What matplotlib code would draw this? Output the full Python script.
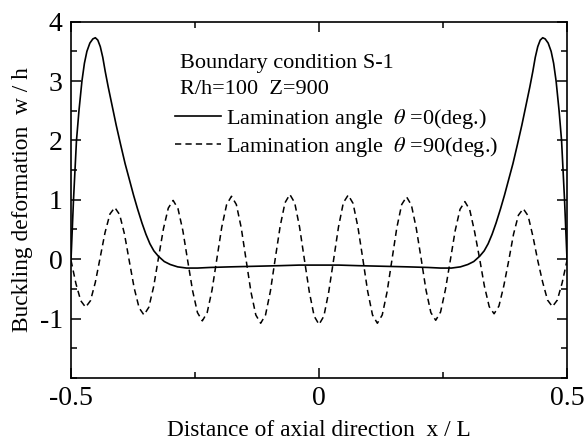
"""Buckling deformation along the axial direction for two lamination angles."""

import matplotlib

matplotlib.use("Agg")

import matplotlib.pyplot as plt
import numpy as np
from matplotlib.ticker import MultipleLocator

# theta = 0 deg (solid)
x_solid = [
    -0.500, -0.497, -0.495, -0.492, -0.489, -0.484, -0.478, -0.473, -0.468,
    -0.462, -0.456, -0.451, -0.446, -0.441, -0.436, -0.431, -0.425, -0.417,
    -0.409, -0.400, -0.391, -0.382, -0.374, -0.366, -0.357, -0.349, -0.341,
    -0.333, -0.324, -0.312, -0.300, -0.285, -0.267, -0.245, -0.220, -0.180,
    -0.130, -0.080, -0.040, 0.000,
    0.040, 0.080, 0.130, 0.180, 0.220, 0.245, 0.267, 0.285, 0.300, 0.312,
    0.324, 0.333, 0.341, 0.349, 0.357, 0.366, 0.374, 0.382, 0.391, 0.400,
    0.409, 0.417, 0.425, 0.431, 0.436, 0.441, 0.446, 0.451, 0.456, 0.462,
    0.468, 0.473, 0.478, 0.484, 0.489, 0.492, 0.495, 0.497, 0.500,
]
w_solid = [
    0.00, 0.60, 1.00, 1.50, 2.00, 2.50, 3.00, 3.30, 3.50,
    3.64, 3.71, 3.73, 3.69, 3.58, 3.40, 3.16, 2.90, 2.58,
    2.26, 1.93, 1.61, 1.33, 1.08, 0.85, 0.61, 0.42, 0.26,
    0.14, 0.05, -0.04, -0.09, -0.13, -0.15, -0.15, -0.14, -0.13,
    -0.12, -0.11, -0.10, -0.10,
    -0.10, -0.11, -0.12, -0.13, -0.14, -0.15, -0.15, -0.13, -0.09, -0.04,
    0.05, 0.14, 0.26, 0.42, 0.61, 0.85, 1.08, 1.33, 1.61, 1.93,
    2.26, 2.58, 2.90, 3.16, 3.40, 3.58, 3.69, 3.73, 3.71, 3.64,
    3.50, 3.30, 3.00, 2.50, 2.00, 1.50, 1.00, 0.60, 0.00,
]

# theta = 90 deg (dashed), sampled every 1/102 of the length
x_dashed = np.linspace(-0.5, 0.5, 103)
w_dashed = [
    -0.02, -0.41, -0.70,
    -0.81, -0.70, -0.39, 0.03, 0.45, 0.76,
    0.87, 0.75, 0.42, -0.04, -0.49, -0.82,
    -0.94, -0.81, -0.46, 0.03, 0.51, 0.86,
    0.99, 0.85, 0.48, -0.03, -0.53, -0.90,
    -1.04, -0.90, -0.52, 0.01, 0.54, 0.92,
    1.06, 0.92, 0.53, -0.01, -0.55, -0.94,
    -1.08, -0.94, -0.54, 0.01, 0.55, 0.95,
    1.09, 0.95, 0.54, -0.01, -0.55, -0.96,
    -1.10,
    -0.96, -0.55, -0.01, 0.54, 0.95,
    1.08, 0.94, 0.54, 0.01, -0.54, -0.94,
    -1.08, -0.94, -0.55, -0.01, 0.53, 0.92,
    1.05, 0.91, 0.52, 0.01, -0.52, -0.90,
    -1.03, -0.89, -0.51, -0.02, 0.48, 0.84,
    0.97, 0.83, 0.46, 0.02, -0.45, -0.80,
    -0.92, -0.79, -0.45, -0.03, 0.42, 0.74,
    0.85, 0.73, 0.38, -0.03, -0.39, -0.69,
    -0.80, -0.69, -0.40, -0.02,
]

x_ticks = [-0.5, 0.0, 0.5]
x_tick_labels = ["-0.5", "0", "0.5"]
y_ticks = [-1, 0, 1, 2, 3, 4]
y_tick_labels = ["-1", "0", "1", "2", "3", "4"]

header_lines = ["Boundary condition S-1", "R/h=100  Z=900"]
series_labels = [
    r"Lamination angle  $\theta$ =0(deg.)",
    r"Lamination angle  $\theta$ =90(deg.)",
]

plt.rcParams["font.family"] = ["Liberation Serif", "DejaVu Serif"]
plt.rcParams["mathtext.fontset"] = "stix"
plt.rcParams["axes.unicode_minus"] = False
plt.rcParams["lines.scale_dashes"] = False

figure = plt.figure(figsize=(5.86, 4.43), dpi=100)
axis = figure.add_axes([0.1212, 0.147, 0.8464, 0.804])

axis.plot(x_solid, w_solid, color="black", linewidth=1.2, label=series_labels[0])
axis.plot(
    x_dashed,
    w_dashed,
    color="black",
    linewidth=1.1,
    dashes=(4.5, 3.0),
    label=series_labels[1],
)

axis.set_xlim(-0.5, 0.5)
axis.set_ylim(-2, 4)
axis.set_xticks(x_ticks)
axis.set_xticklabels(x_tick_labels)
axis.set_yticks(y_ticks)
axis.set_yticklabels(y_tick_labels)
axis.xaxis.set_minor_locator(MultipleLocator(0.25))
axis.yaxis.set_minor_locator(MultipleLocator(0.5))
axis.tick_params(
    which="both", direction="in", top=True, right=True, labelsize=20, width=1.1
)
axis.tick_params(which="major", length=7, pad=6)
axis.tick_params(which="minor", length=4)
for spine in axis.spines.values():
    spine.set_linewidth(1.2)

axis.set_xlabel("Distance of axial direction  x / L", fontsize=16.8)
axis.set_ylabel("Buckling deformation  w / h", fontsize=16.8)
axis.xaxis.set_label_coords(0.5, -0.118)
axis.yaxis.set_label_coords(-0.077, 0.5)

for index, line in enumerate(header_lines):
    axis.text(
        0.22,
        0.883 - index * 0.074,
        line,
        transform=axis.transAxes,
        fontsize=16,
        ha="left",
        va="center",
    )

axis.legend(
    loc="upper left",
    bbox_to_anchor=(0.21, 0.76),
    frameon=False,
    fontsize=16,
    handlelength=2.07,
    handletextpad=0.22,
    labelspacing=0.17,
    borderpad=0.0,
    borderaxespad=0.0,
)

figure.savefig("out.png", dpi=100)
plt.close(figure)
